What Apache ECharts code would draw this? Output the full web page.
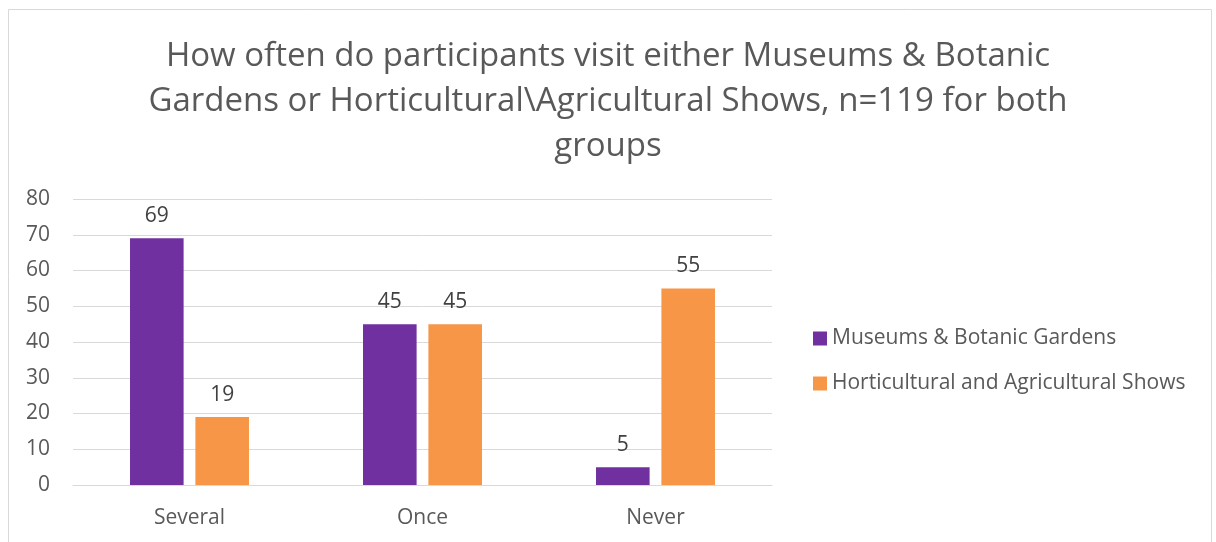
<!DOCTYPE html>
<html>
<head>
<meta charset="utf-8">
<script src="https://cdn.jsdelivr.net/npm/echarts@6/dist/echarts.min.js"></script>
<style>
  html, body { margin: 0; padding: 0; background: #ffffff; }
  #chart { width: 1216px; height: 542px; }
</style>
</head>
<body>
<div id="chart"></div>
<script>
// Visit frequency, n=119 for both groups
const categories = ['Several', 'Once', 'Never'];
const museumsValues = [69, 45, 5];
const showsValues = [19, 45, 55];
const seriesNames = ['Museums & Botanic Gardens', 'Horticultural and Agricultural Shows'];
const titleText = 'How often do participants visit either Museums & Botanic\nGardens or Horticultural\\Agricultural Shows, n=119 for both\ngroups';

const FONT = '"Open Sans", "Liberation Sans", sans-serif';
const chart = echarts.init(document.getElementById('chart'), null, { renderer: 'canvas' });

const labelStyle = {
  show: true,
  position: 'top',
  distance: 12,
  color: '#404040',
  fontSize: 21,
  fontFamily: FONT
};

chart.setOption({
  animation: false,
  backgroundColor: '#ffffff',
  graphic: [{
    type: 'rect',
    shape: { x: 8.5, y: 9.5, width: 1203, height: 545 },
    style: { fill: 'none', stroke: '#d9d9d9', lineWidth: 1 },
    silent: true,
    z: -1
  }],
  title: {
    text: titleText,
    left: 'center',
    top: 29,
    textStyle: {
      color: '#595959',
      fontSize: 33,
      fontWeight: 'normal',
      fontFamily: FONT,
      lineHeight: 45
    }
  },
  legend: {
    orient: 'vertical',
    left: 808,
    top: 323,
    itemWidth: 14,
    itemHeight: 14,
    itemGap: 24,
    icon: 'rect',
    textStyle: { color: '#595959', fontSize: 21, fontFamily: FONT },
    data: seriesNames
  },
  grid: { left: 73, right: 444, top: 199, bottom: 57, containLabel: false },
  xAxis: {
    type: 'category',
    data: categories,
    axisLine: { show: true, lineStyle: { color: '#d9d9d9', width: 1 } },
    axisTick: { show: false },
    axisLabel: { color: '#595959', fontSize: 21, fontFamily: FONT, margin: 23 }
  },
  yAxis: {
    type: 'value',
    min: 0,
    max: 80,
    interval: 10,
    axisLine: { show: false },
    axisTick: { show: false },
    splitLine: { lineStyle: { color: '#d9d9d9', width: 1 } },
    axisLabel: { color: '#595959', fontSize: 21, fontFamily: FONT, margin: 23 }
  },
  series: [
    {
      name: seriesNames[0],
      type: 'bar',
      data: museumsValues,
      barWidth: '23%',
      barGap: '22%',
      itemStyle: { color: '#7030a0' },
      label: labelStyle
    },
    {
      name: seriesNames[1],
      type: 'bar',
      data: showsValues,
      barWidth: '23%',
      barGap: '22%',
      itemStyle: { color: '#f79646' },
      label: labelStyle
    }
  ]
});
</script>
</body>
</html>
